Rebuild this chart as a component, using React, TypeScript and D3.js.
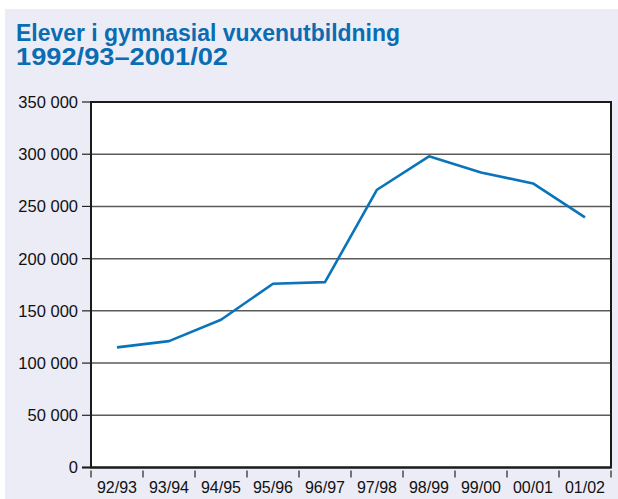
import React from 'react';
import * as d3 from 'd3';

const categories = ['92/93', '93/94', '94/95', '95/96', '96/97', '97/98', '98/99', '99/00', '00/01', '01/02'];
const students = [115000, 121000, 141500, 176000, 177500, 266000, 298000, 282500, 272000, 239500];
const yTicks = [0, 50000, 100000, 150000, 200000, 250000, 300000, 350000];
const titleLines = ['Elever i gymnasial vuxenutbildning', '1992/93–2001/02'];

const W = 618;
const H = 499;
const margin = { top: 102, right: 7, bottom: 31, left: 91 };

const locale = d3.formatLocale({ decimal: ',', thousands: ' ', grouping: [3], currency: ['', ''] });
const fmt = locale.format(',');

const App = () => {
  const x = d3.scaleBand<string>()
    .domain(categories)
    .range([margin.left, W - margin.right]);

  const y = d3.scaleLinear()
    .domain([0, 350000])
    .range([H - margin.bottom - 0.5, margin.top]);

  const line = d3.line<number>()
    .x((d, i) => (x(categories[i]) as number) + x.bandwidth() / 2)
    .y(d => y(d));

  const x0 = margin.left;
  const x1 = W - margin.right;
  const yBottom = y(0);
  const font = '"Liberation Sans", Arial, sans-serif';

  // tick boundaries between categories, plus the right edge
  const bounds = categories.map(c => x(c) as number).concat([x1]);

  return (
    <div style={{ position: 'absolute', left: 0, top: 0 }}>
      <svg width={W} height={H} style={{ display: 'block' }}>
        <rect x={0} y={0} width={W} height={H} fill="#ffffff" />
        <rect x={5} y={9} width={W - 5} height={H - 9} fill="#ececf6" />

        {titleLines.map((t, i) => (
          <text key={t} x={16} y={41 + i * 24} fill="#0a6cb2" fontFamily={font}
            fontWeight="bold" fontSize={23}
            textLength={i === 0 ? 384 : 212} lengthAdjust="spacingAndGlyphs">{t}</text>
        ))}

        <rect x={x0} y={margin.top} width={x1 - x0} height={yBottom - margin.top} fill="#ffffff" />

        {yTicks.map(t => (
          <g key={t}>
            {t > 0 && t < 350000 && (
              <line x1={x0} x2={x1} y1={y(t)} y2={y(t)} stroke="#5a5a5a" strokeWidth={1.5} />
            )}
            <line x1={x0 - 9} x2={x0} y1={y(t)} y2={y(t)} stroke="#222" strokeWidth={1.2} />
            <text x={78} y={y(t)} dy="0.36em" textAnchor="end" fontFamily={font} fontSize={16.5}
              fill="#111">{fmt(t)}</text>
          </g>
        ))}

        <path d={line(students) as string} fill="none" stroke="#0a74bb" strokeWidth={2.6}
          strokeLinejoin="round" />

        <rect x={x0} y={margin.top} width={x1 - x0} height={yBottom - margin.top} fill="none"
          stroke="#1a1a1a" strokeWidth={2} />
        <line x1={x0 - 9} x2={x1} y1={yBottom} y2={yBottom} stroke="#1a1a1a" strokeWidth={2} />

        {bounds.map((b, i) => (
          <line key={i} x1={b} x2={b} y1={yBottom + 3} y2={yBottom + 10} stroke="#222" strokeWidth={1.2} />
        ))}
        {categories.map(c => (
          <text key={c} x={(x(c) as number) + x.bandwidth() / 2} y={yBottom + 25} textAnchor="middle"
            fontFamily={font} fontSize={16} fill="#111">{c}</text>
        ))}
      </svg>
    </div>
  );
};

export default App;
